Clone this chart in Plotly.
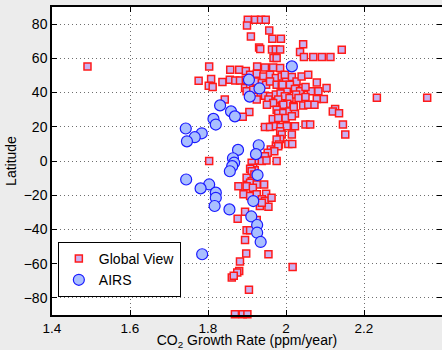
import plotly.graph_objects as go

# Global View stations: CO2 growth rate (ppm/year) and latitude
gv_rate = [
    1.902, 1.921, 1.936, 1.948, 1.900, 1.957, 1.910, 1.965, 1.987,
    1.931, 1.934, 1.964, 1.974, 1.985, 1.968, 1.976,
    2.044, 2.036, 2.046, 2.070, 2.092, 2.114, 2.143, 1.491,
    1.803, 1.857, 1.880, 1.897, 1.926, 1.946, 1.967, 1.985,
    1.776, 1.808, 1.802, 1.812, 1.837, 1.856, 1.870, 1.882, 1.897,
    1.908, 1.925, 1.942, 1.959, 1.974, 1.989, 2.000, 2.015, 2.027, 1.997, 2.040, 2.057,
    1.895, 1.908, 1.923, 1.938, 1.949, 1.959, 1.976, 1.989, 2.002, 2.010, 2.023, 1.991,
    2.044, 2.036, 2.064, 2.079, 2.104, 2.083, 2.050,
    1.899, 1.916, 1.935, 1.946, 1.959, 1.974, 1.986, 1.997, 2.009, 2.026, 2.032, 2.050,
    2.079, 2.097, 1.980,
    1.925, 1.955, 1.967, 1.989, 2.003, 2.019, 1.993, 2.044, 2.057, 2.073, 2.126, 1.951, 1.843,
    2.233, 2.362,
    1.906, 1.889, 1.976, 1.980, 1.993, 2.009, 2.023, 2.120, 2.136, 2.020,
    1.966, 1.980, 1.999, 2.015,
    1.946, 1.959, 1.974, 1.986, 2.002, 2.023, 2.050, 2.062, 2.146,
    1.985, 1.989, 1.985, 2.015, 2.006, 2.016, 1.974, 1.976, 2.152, 1.982,
    1.961, 1.980, 1.970, 1.953, 1.946, 1.929, 1.938, 1.950, 1.976, 1.803,
    1.912, 1.916, 1.920, 1.908, 1.912, 1.919, 1.899, 1.912, 1.908, 1.878, 1.899, 1.925,
    1.944, 1.915, 1.891, 1.908, 1.925, 1.949, 1.938, 1.946, 1.963, 1.933, 1.955, 1.938,
    1.895, 1.876, 1.925, 1.899, 1.908, 1.895, 1.898, 1.955, 1.882, 1.880, 1.875, 1.861,
    1.866, 1.905, 2.017, 1.869, 1.889, 1.901,
]
gv_lat = [
    82.5, 82.5, 82.5, 82.5, 79.2, 76.3, 72.8, 71.4, 71.4,
    66.4, 65.4, 65.2, 65.2, 65.2, 60.2, 60.2,
    68.3, 63.7, 60.8, 60.8, 60.8, 60.8, 65.0, 55.3,
    55.3, 53.4, 53.4, 52.6, 55.3, 54.7, 54.7, 54.3,
    46.9, 47.9, 44.0, 43.3, 46.2, 47.5, 47.1, 47.1, 47.5,
    50.4, 51.0, 49.4, 50.4, 48.5, 49.4, 47.5, 49.1, 46.5, 50.4, 49.4, 50.4,
    42.7, 44.6, 46.5, 45.6, 44.6, 46.5, 44.6, 43.6, 41.7, 44.6, 42.1, 44.6,
    42.7, 40.7, 40.7, 45.9, 42.7, 40.7, 43.3,
    40.7, 41.7, 39.8, 38.2, 37.8, 38.8, 39.4, 37.8, 36.8, 38.8, 36.8, 37.4,
    36.3, 36.3, 35.9,
    35.9, 35.9, 33.9, 32.4, 33.5, 32.0, 32.9, 32.4, 32.9, 32.9, 30.4, 32.9, 35.9,
    37.0, 37.0,
    28.7, 25.8, 30.0, 27.7, 28.1, 29.0, 27.7, 29.0, 27.9, 31.6,
    24.6, 25.2, 25.2, 26.1,
    19.9, 19.9, 20.3, 19.9, 20.3, 20.3, 21.3, 21.3, 21.3,
    17.4, 15.5, 12.9, 15.5, 10.0, 10.0, 9.0, 12.5, 15.5, 9.6,
    6.7, 8.6, 5.7, 4.8, 2.8, 0.3, 0.0, 0.3, 0.0, 0.0,
    -1.0, -4.0, -5.4, -4.6, -6.0, -7.9, -9.8, -11.8, -12.7, -14.7, -14.7, -13.7,
    -13.7, -15.6, -19.5, -20.5, -19.5, -19.1, -22.4, -23.4, -21.5, -26.3, -26.7, -24.4,
    -29.6, -33.7, -34.5, -40.5, -40.5, -46.2, -54.1, -54.5, -58.8, -64.3, -65.2, -68.1,
    -67.0, -75.3, -61.9, -89.5, -89.5, -89.5,
]

# AIRS zonal values
airs_rate = [
    2.015, 1.905, 1.932, 1.907, 1.831, 1.859, 1.869, 1.814, 1.820, 1.743, 1.784, 1.766,
    1.746, 1.930, 1.877, 1.923, 1.864, 1.867, 1.862, 1.856, 1.927, 1.744, 1.803, 1.781,
    1.820, 1.820, 1.817, 1.855, 1.916, 1.911, 1.926, 1.926, 1.935, 1.785,
]
airs_lat = [
    55.3, 47.5, 42.4, 37.6, 32.5, 29.0, 26.1, 24.6, 21.3, 19.0, 16.2, 13.9,
    11.5, 9.2, 6.5, 4.0, 1.6, -1.0, -3.0, -6.0, -8.2, -10.8, -13.7, -16.0,
    -18.5, -21.5, -26.3, -28.3, -23.4, -32.4, -37.4, -41.9, -47.3, -54.5,
]

x_ticks = [1.4, 1.6, 1.8, 2.0, 2.2]
x_tick_labels = ["1.4", "1.6", "1.8", "2", "2.2"]
y_ticks = [80, 60, 40, 20, 0, -20, -40, -60, -80]
y_tick_labels = ["80", "60", "40", "20", "0", "\u221220", "\u221240", "\u221260", "\u221280"]

FONT = "Liberation Sans, Arial, Helvetica, sans-serif"

fig = go.Figure()
fig.add_trace(go.Scatter(
    x=gv_rate, y=gv_lat, mode="markers", name="Global View",
    cliponaxis=False,
    marker=dict(symbol="square", size=7, color="#c9b2f2",
                line=dict(color="#ff1a1a", width=1.5)),
))
fig.add_trace(go.Scatter(
    x=airs_rate, y=airs_lat, mode="markers", name="AIRS",
    cliponaxis=False,
    marker=dict(symbol="circle", size=11, color="#a9bfff",
                line=dict(color="#1a1aff", width=1.2)),
))

axis_common = dict(
    showline=True, linecolor="black", linewidth=1.5, mirror="ticks",
    ticks="inside", ticklen=5, tickcolor="black",
    showgrid=True, gridcolor="#6e6e6e", griddash="1px,3px", gridwidth=1,
    zeroline=False, automargin=False,
)

fig.update_layout(
    width=442, height=350,
    margin=dict(l=52, r=0, t=7, b=35),
    paper_bgcolor="#ececec", plot_bgcolor="white",
    font=dict(family=FONT, size=14, color="black"),
    xaxis=dict(range=[1.4, 2.4], tickvals=x_ticks, ticktext=x_tick_labels,
               tickfont=dict(family=FONT, size=13.5, color="black"),
               title=dict(text="CO<sub>2</sub> Growth Rate (ppm/year)", standoff=6,
                          font=dict(family=FONT, size=14)),
               **axis_common),
    yaxis=dict(range=[-90, 90], tickvals=y_ticks, ticktext=y_tick_labels,
               tickfont=dict(family=FONT, size=14, color="black"),
               title=dict(text="Latitude", standoff=4, font=dict(family=FONT, size=14)),
               **axis_common),
    legend=dict(x=0.015, y=0.237, xanchor="left", yanchor="top",
                bgcolor="white", bordercolor="black", borderwidth=1,
                font=dict(family=FONT, size=14), itemwidth=30,
                tracegroupgap=0),
    showlegend=True,
)

fig.write_html("out.html")
